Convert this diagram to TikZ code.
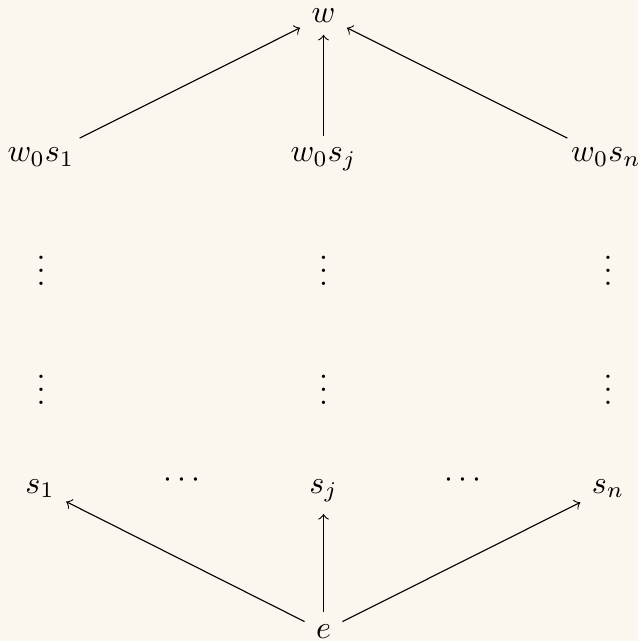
\documentclass[tikz,border=0pt]{standalone}
\usepackage{tikz}
\definecolor{bgc}{RGB}{251,247,239}
\begin{document}
\begin{tikzpicture}[x=0.3125pt,y=-0.3125pt,
  obj/.style={anchor=base, inner sep=2.5pt},
  dots/.style={inner sep=2.5pt},
  arr/.style={->, >=to, line width=0.35pt, shorten >=1pt, shorten <=1pt}]
\fill[bgc] (0,0) rectangle (638,641);
\useasboundingbox (0,0) rectangle (638,641);
\node[obj] (w) at (323.5,23) {$w$};
\node[obj] (a1) at (41,162) {$w_0s_1$};
\node[obj] (aj) at (323.5,162) {$w_0s_j$};
\node[obj] (an) at (606,162) {$w_0s_n$};
\node[dots] (v11) at (41,261) {$\vdots$};
\node[dots] (v1j) at (323.5,261) {$\vdots$};
\node[dots] (v1n) at (608,261) {$\vdots$};
\node[dots] (v21) at (41,380) {$\vdots$};
\node[dots] (v2j) at (323.5,380) {$\vdots$};
\node[dots] (v2n) at (608,380) {$\vdots$};
\node[obj] (s1) at (40,493) {$s_1$};
\node[obj] (c1) at (182,487) {$\cdots$};
\node[obj] (sj) at (323.5,493) {$s_j$};
\node[obj] (c2) at (463,487) {$\cdots$};
\node[obj] (sn) at (608,493) {$s_n$};
\node[obj] (e) at (323.5,638) {$e$};
\draw[arr] (a1) -- (w);
\draw[arr] (aj) -- (w);
\draw[arr] (an) -- (w);
\draw[arr] (e) -- (s1);
\draw[arr] (e) -- (sj);
\draw[arr] (e) -- (sn);
\end{tikzpicture}
\end{document}
